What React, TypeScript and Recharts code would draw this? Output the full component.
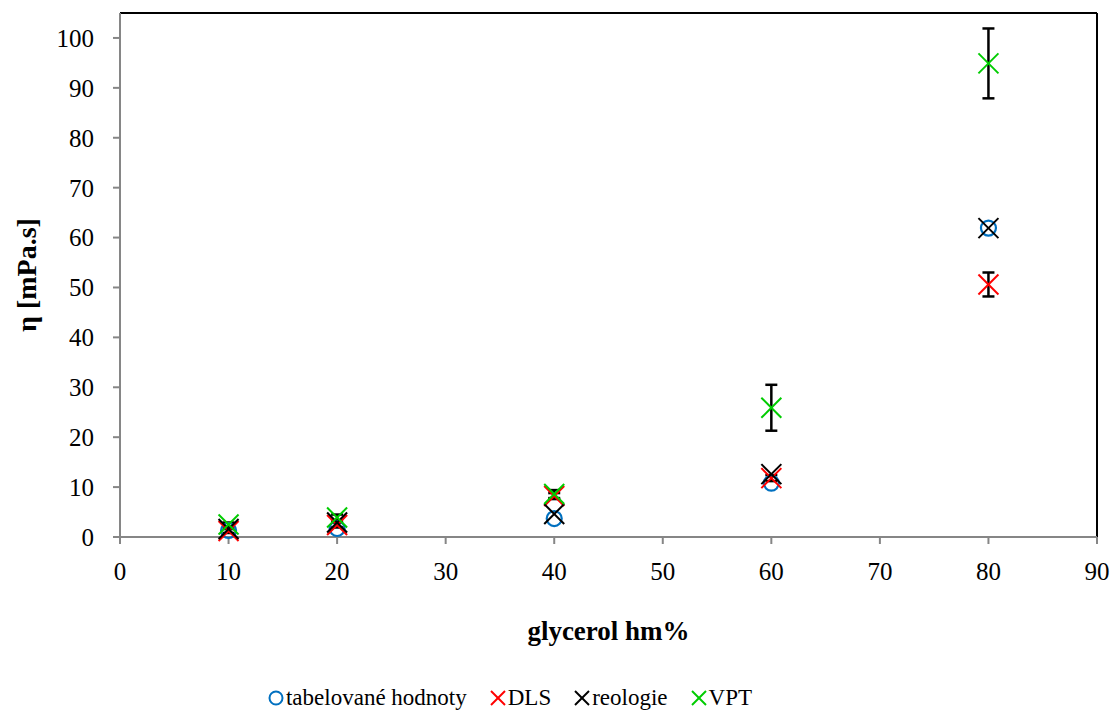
import React from 'react';
import {
  ScatterChart,
  Scatter,
  XAxis,
  YAxis,
  ErrorBar,
  ReferenceLine,
  Legend
} from 'recharts';

// glycerol content (hm%)
const glycerol = [10, 20, 40, 60, 80];

// viscosity values η [mPa.s]
const tabelovane = [1.3, 1.7, 3.7, 10.8, 61.9];
const dls = [1.2, 2.4, 8.2, 11.8, 50.6];
const dlsErr = [0.4, 0.5, 0.6, 0.6, 2.4];
const reologie = [1.6, 2.9, 4.6, 12.6, 61.9];
const vpt = [2.5, 3.9, 8.6, 25.9, 94.9];
const vptErr = [0.4, 0.6, 0.8, 4.6, 7.0];

const xTicks = [0, 10, 20, 30, 40, 50, 60, 70, 80, 90];
const yTicks = [0, 10, 20, 30, 40, 50, 60, 70, 80, 90, 100];

const BLUE = '#0070c0';
const RED = '#ff0000';
const BLACK = '#000000';
const GREEN = '#00cc00';
const AXIS = '#868686';
const FONT = '"Liberation Serif", "Times New Roman", serif';

const toPoints = (ys: number[], errs?: number[]) =>
  glycerol.map((x, i) => ({ x, y: ys[i], err: errs ? errs[i] : 0 }));

const tabData = toPoints(tabelovane);
const dlsData = toPoints(dls, dlsErr);
const reoData = toPoints(reologie);
const vptData = toPoints(vpt, vptErr);

const circleShape = (props: any) => (
  <circle cx={props.cx} cy={props.cy} r={7.5} fill="none" stroke={BLUE} strokeWidth={2.2} />
);

const crossShape = (color: string) => (props: any) => {
  const { cx, cy } = props;
  const s = 10;
  return (
    <g stroke={color} strokeWidth={2}>
      <line x1={cx - s} y1={cy - s} x2={cx + s} y2={cy + s} />
      <line x1={cx - s} y1={cy + s} x2={cx + s} y2={cy - s} />
    </g>
  );
};

const legendItems = [
  { label: 'tabelované hodnoty', color: BLUE, type: 'circle' },
  { label: 'DLS', color: RED, type: 'cross' },
  { label: 'reologie', color: BLACK, type: 'cross' },
  { label: 'VPT', color: GREEN, type: 'cross' }
];

const renderLegend = () => (
  <div
    style={{
      display: 'flex',
      justifyContent: 'center',
      alignItems: 'center',
      transform: 'translateX(-27px)',
      fontFamily: FONT,
      fontSize: 23,
      color: '#000'
    }}
  >
    {legendItems.map((it) => (
      <div key={it.label} style={{ display: 'flex', alignItems: 'center', marginRight: 23 }}>
        <svg width={16} height={16} style={{ marginRight: 2 }}>
          {it.type === 'circle' ? (
            <circle cx={8} cy={8} r={6.5} fill="none" stroke={it.color} strokeWidth={2} />
          ) : (
            <g stroke={it.color} strokeWidth={2}>
              <line x1={1} y1={1} x2={15} y2={15} />
              <line x1={1} y1={15} x2={15} y2={1} />
            </g>
          )}
        </svg>
        <span>{it.label}</span>
      </div>
    ))}
  </div>
);

export default function App() {
  return (
    <div style={{ position: 'absolute', left: 0, top: 0, background: '#fff' }}>
      <ScatterChart
        width={1112}
        height={715}
        margin={{ top: 13, right: 15, left: 0, bottom: 0 }}
        style={{ fontFamily: FONT }}
      >
        <XAxis
          type="number"
          dataKey="x"
          domain={[0, 90]}
          ticks={xTicks}
          height={148}
          stroke={AXIS}
          strokeWidth={2}
          tickSize={7}
          tickMargin={18}
          tick={{ fill: '#000', fontSize: 25, fontFamily: FONT }}
          label={{
            value: 'glycerol hm%',
            position: 'insideBottom',
            offset: 45,
            style: { fill: '#000', fontSize: 27, fontWeight: 700, fontFamily: FONT }
          }}
        />
        <YAxis
          type="number"
          dataKey="y"
          domain={[0, 105]}
          ticks={yTicks}
          width={120}
          stroke={AXIS}
          strokeWidth={2}
          tickSize={7}
          tickMargin={19}
          tick={{ fill: '#000', fontSize: 25, fontFamily: FONT }}
          label={{
            value: 'η [mPa.s]',
            angle: -90,
            position: 'insideLeft',
            offset: 26,
            style: { textAnchor: 'middle', fill: '#000', fontSize: 28, fontWeight: 700, fontFamily: FONT }
          }}
        />
        <ReferenceLine y={105} stroke={BLACK} strokeWidth={2} />
        <ReferenceLine x={90} stroke={BLACK} strokeWidth={2} />
        <Legend verticalAlign="bottom" height={30} content={renderLegend} />
        <Scatter
          name="tabelované hodnoty"
          data={tabData}
          shape={circleShape}
          isAnimationActive={false}
        />
        <Scatter name="DLS" data={dlsData} shape={crossShape(RED)} isAnimationActive={false}>
          <ErrorBar dataKey="err" direction="y" width={6} stroke={BLACK} strokeWidth={2.5} />
        </Scatter>
        <Scatter name="reologie" data={reoData} shape={crossShape(BLACK)} isAnimationActive={false} />
        <Scatter name="VPT" data={vptData} shape={crossShape(GREEN)} isAnimationActive={false}>
          <ErrorBar dataKey="err" direction="y" width={6} stroke={BLACK} strokeWidth={2.5} />
        </Scatter>
      </ScatterChart>
    </div>
  );
}
